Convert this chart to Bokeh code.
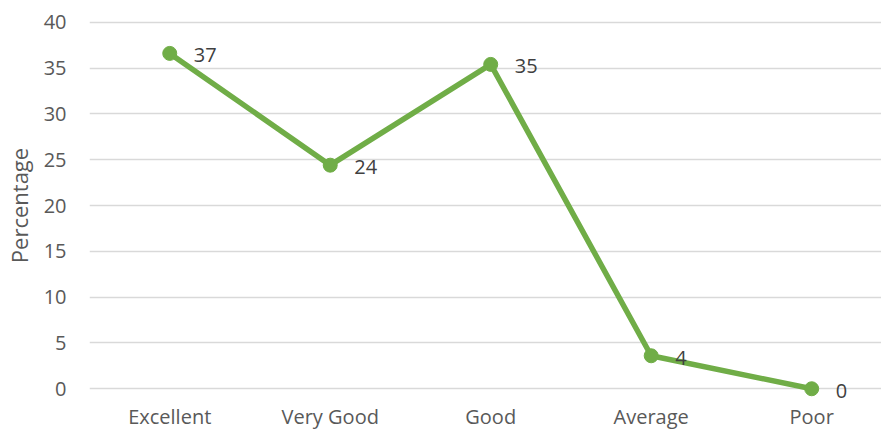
from bokeh.plotting import figure
from bokeh.models import ColumnDataSource, Range1d, FixedTicker
from bokeh.core.properties import value
from bokeh.embed import file_html
from bokeh.resources import INLINE

categories = ["Excellent", "Very Good", "Good", "Average", "Poor"]
percentages = [36.6, 24.4, 35.4, 3.6, 0.0]
y_ticks = [0, 5, 10, 15, 20, 25, 30, 35, 40]

xs = [i + 0.5 for i in range(len(categories))]
labels = [str(int(round(v))) for v in percentages]
src = ColumnDataSource(dict(x=xs, y=percentages, label=labels))

FONT = "Open Sans"
p = figure(width=881, height=432, output_backend="svg", toolbar_location=None,
           x_range=Range1d(0, 4.935), y_range=Range1d(-1.5, 41.5),
           min_border_left=89, min_border_right=0, min_border_top=8,
           min_border_bottom=30)
p.outline_line_color = None
p.background_fill_color = "white"
p.border_fill_color = "white"

p.line("x", "y", source=src, line_color="#70AD47", line_width=5.5, line_join="round")
p.scatter("x", "y", source=src, size=14, fill_color="#70AD47", line_color="#70AD47")
p.text("x", "y", text="label", source=src, x_offset=24, y_offset=2,
       text_font=value(FONT), text_font_size="20px", text_color="#404040",
       text_baseline="middle", text_align="left")

p.xaxis.ticker = FixedTicker(ticks=xs)
p.xaxis.major_label_overrides = {x: c for x, c in zip(xs, categories)}
p.yaxis.ticker = FixedTicker(ticks=y_ticks)

for ax in (p.xaxis[0], p.yaxis[0]):
    ax.axis_line_color = None
    ax.major_tick_line_color = None
    ax.minor_tick_line_color = None
    ax.major_tick_out = 0
    ax.major_tick_in = 0
    ax.major_label_text_font = FONT
    ax.major_label_text_font_size = "20px"
    ax.major_label_text_color = "#595959"

p.xaxis.major_label_standoff = 0
p.yaxis.major_label_standoff = 23
p.yaxis.axis_label = "Percentage"
p.yaxis.axis_label_text_font = FONT
p.yaxis.axis_label_text_font_size = "22px"
p.yaxis.axis_label_text_font_style = "normal"
p.yaxis.axis_label_text_color = "#595959"
p.yaxis.axis_label_standoff = 7

p.xgrid.grid_line_color = None
p.ygrid.ticker = FixedTicker(ticks=y_ticks)
p.ygrid.grid_line_color = "#D9D9D9"
p.ygrid.grid_line_width = 1.5

open("out.html", "w").write(file_html(p, INLINE))
